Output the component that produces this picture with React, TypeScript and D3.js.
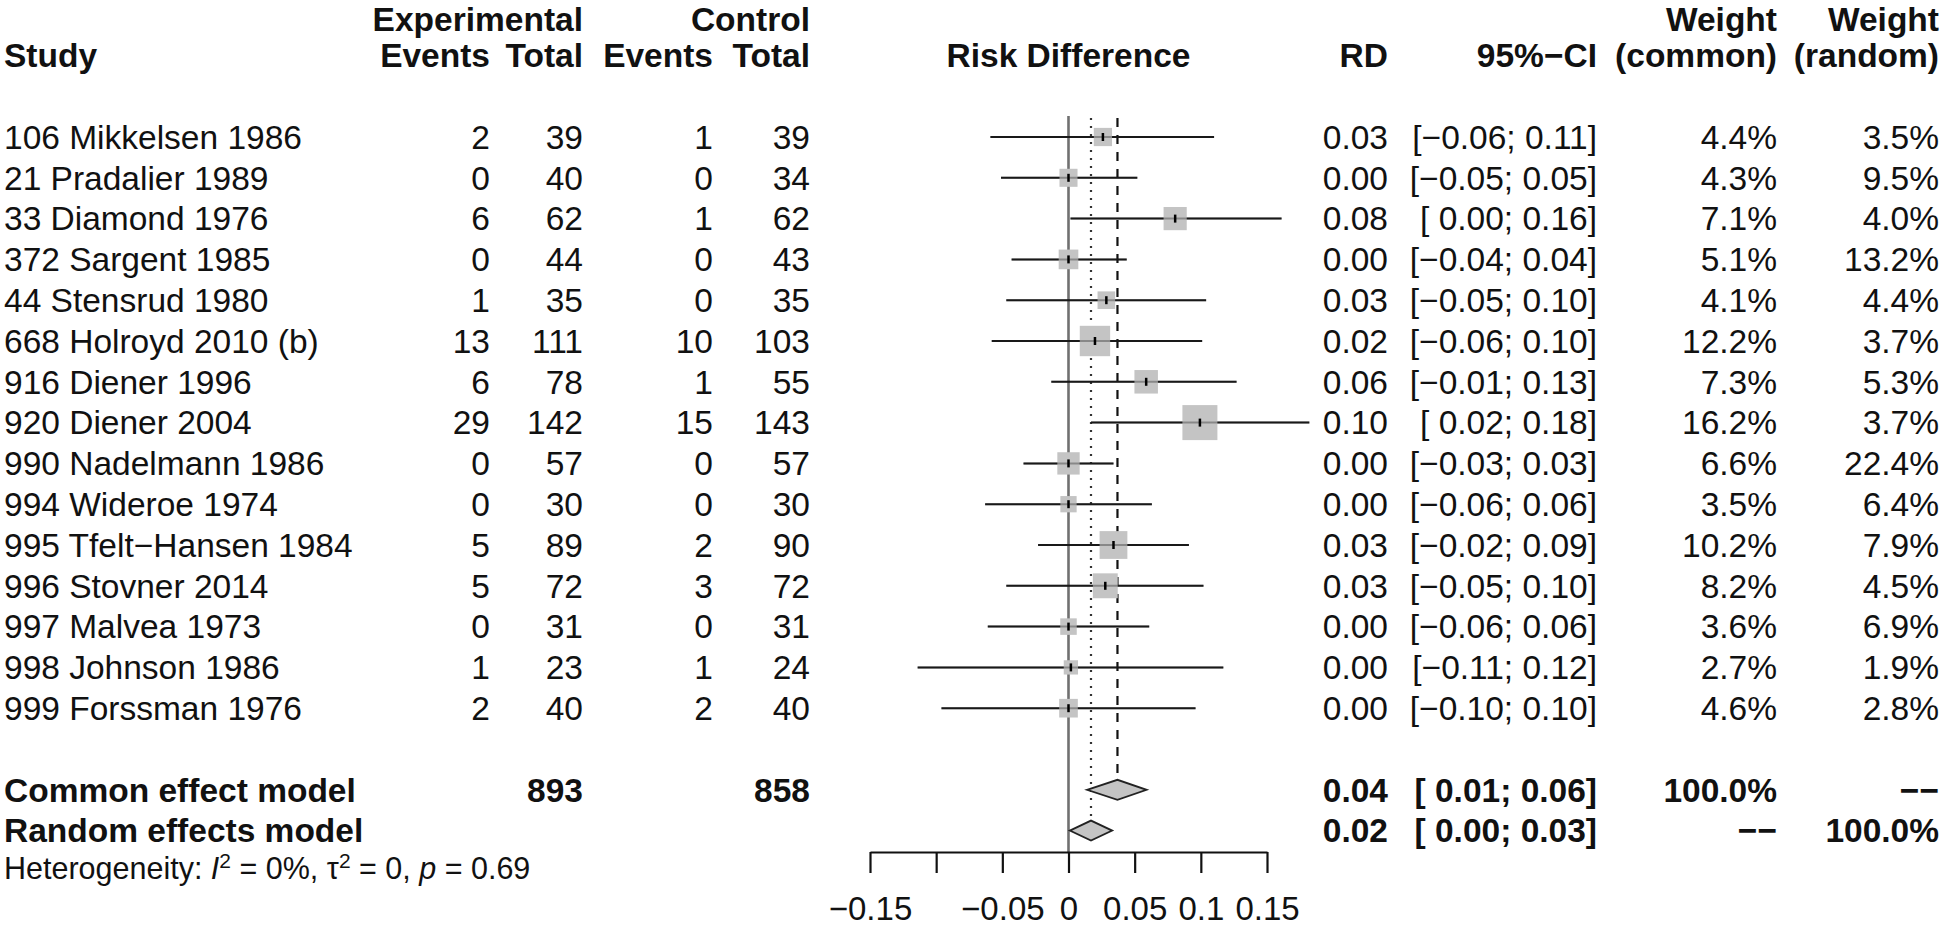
import React, { useEffect, useRef } from "react";
import * as d3 from "d3";

const W = 1944;
const H = 929;
const FONT = "'Liberation Sans', Arial, Helvetica, sans-serif";

const studies = [
  "106 Mikkelsen 1986",
  "21 Pradalier 1989",
  "33 Diamond 1976",
  "372 Sargent 1985",
  "44 Stensrud 1980",
  "668 Holroyd 2010 (b)",
  "916 Diener 1996",
  "920 Diener 2004",
  "990 Nadelmann 1986",
  "994 Wideroe 1974",
  "995 Tfelt\u2212Hansen 1984",
  "996 Stovner 2014",
  "997 Malvea 1973",
  "998 Johnson 1986",
  "999 Forssman 1976",
];
const expEvents = [2, 0, 6, 0, 1, 13, 6, 29, 0, 0, 5, 5, 0, 1, 2];
const expTotal = [39, 40, 62, 44, 35, 111, 78, 142, 57, 30, 89, 72, 31, 23, 40];
const ctrlEvents = [1, 0, 1, 0, 0, 10, 1, 15, 0, 0, 2, 3, 0, 1, 2];
const ctrlTotal = [39, 34, 62, 43, 35, 103, 55, 143, 57, 30, 90, 72, 31, 24, 40];
const rd = [0.026, 0, 0.0806, 0, 0.0286, 0.02, 0.0587, 0.0993, 0, 0, 0.034, 0.0278, 0, 0.0018, 0];
const ciLower = [-0.059, -0.051, 0.0015, -0.043, -0.047, -0.058, -0.013, 0.017, -0.034, -0.063, -0.023, -0.047, -0.061, -0.114, -0.096];
const ciUpper = [0.11, 0.052, 0.161, 0.044, 0.104, 0.101, 0.127, 0.182, 0.034, 0.063, 0.091, 0.102, 0.061, 0.117, 0.096];
const weightCommon = [4.4, 4.3, 7.1, 5.1, 4.1, 12.2, 7.3, 16.2, 6.6, 3.5, 10.2, 8.2, 3.6, 2.7, 4.6];
const weightRandom = [3.5, 9.5, 4.0, 13.2, 4.4, 3.7, 5.3, 3.7, 22.4, 6.4, 7.9, 4.5, 6.9, 1.9, 2.8];

const summaryLabels = ["Common effect model", "Random effects model"];
const summaryExpTotal = ["893", ""];
const summaryCtrlTotal = ["858", ""];
const summaryEst = [0.037, 0.017];
const summaryLower = [0.014, 0.001];
const summaryUpper = [0.059, 0.033];
const summaryWeightCommon = ["100.0%", "\u2212\u2212"];
const summaryWeightRandom = ["\u2212\u2212", "100.0%"];

const tickValues = [-0.15, -0.1, -0.05, 0, 0.05, 0.1, 0.15];
const tickLabels = ["\u22120.15", "", "\u22120.05", "0", "0.05", "0.1", "0.15"];

const fmt = d3.format(".2f");
const ciText = (lo: number, hi: number) =>
  `[${lo < 0 ? "" : " "}${fmt(lo)}; ${fmt(hi)}]`;

export default function App() {
  const axisRef = useRef<SVGGElement>(null);

  const x = d3.scaleLinear().domain([-0.15, 0.15]).range([870, 1267]);
  const row = d3.scaleLinear().domain([0, 1]).range([137, 177.8]);
  const box = d3.scaleSqrt().domain([0, 16.2]).range([0, 35]);

  const fs = 33.5;
  const dy = "0.35em";
  const axisY = 852;

  const colStudy = 4;
  const colExpEv = 490;
  const colExpTot = 583;
  const colCtrlEv = 713;
  const colCtrlTot = 810;
  const colRD = 1388;
  const colCI = 1597;
  const colWC = 1777;
  const colWR = 1939;

  const header1Y = 30.5;

  useEffect(() => {
    if (!axisRef.current) return;
    const g = d3.select(axisRef.current);
    g.call(
      d3
        .axisBottom(x)
        .tickValues(tickValues)
        .tickFormat((_d, i) => tickLabels[i])
        .tickSize(21)
        .tickSizeOuter(0)
        .tickPadding(24)
    );
    g.attr("font-family", FONT).attr("font-size", 33);
    g.select(".domain").attr("stroke", "#111").attr("stroke-width", 2.2);
    g.selectAll(".tick line").attr("stroke", "#111").attr("stroke-width", 2.2);
    g.selectAll(".tick text").attr("fill", "#111");
  }, []);

  const yCommon = row(16);
  const yRandom = row(17);
  const dH = 10;

  const diamond = (lo: number, est: number, hi: number, y: number) =>
    `M${x(lo)},${y} L${x(est)},${y - dH} L${x(hi)},${y} L${x(est)},${y + dH} Z`;

  return (
    <svg
      width={W}
      height={H}
      style={{ position: "absolute", left: 0, top: 0, background: "#fff" }}
      fontFamily={FONT}
      fontSize={fs}
      fill="#111"
    >
      <rect x={0} y={0} width={W} height={H} fill="#fff" />

      {/* headers */}
      <g fontWeight="bold">
        <text x={colExpTot} y={header1Y} textAnchor="end">Experimental</text>
        <text x={colCtrlTot} y={header1Y} textAnchor="end">Control</text>
        <text x={colWC} y={header1Y} textAnchor="end">Weight</text>
        <text x={colWR} y={header1Y} textAnchor="end">Weight</text>

        <text x={colStudy} y={row(-2)} dy={dy}>Study</text>
        <text x={colExpEv} y={row(-2)} dy={dy} textAnchor="end">Events</text>
        <text x={colExpTot} y={row(-2)} dy={dy} textAnchor="end">Total</text>
        <text x={colCtrlEv} y={row(-2)} dy={dy} textAnchor="end">Events</text>
        <text x={colCtrlTot} y={row(-2)} dy={dy} textAnchor="end">Total</text>
        <text x={x(0)} y={row(-2)} dy={dy} textAnchor="middle">Risk Difference</text>
        <text x={colRD} y={row(-2)} dy={dy} textAnchor="end">RD</text>
        <text x={colCI} y={row(-2)} dy={dy} textAnchor="end">95%{"\u2212"}CI</text>
        <text x={colWC} y={row(-2)} dy={dy} textAnchor="end">(common)</text>
        <text x={colWR} y={row(-2)} dy={dy} textAnchor="end">(random)</text>
      </g>

      {/* study rows text */}
      {studies.map((s, i) => (
        <g key={s}>
          <text x={colStudy} y={row(i)} dy={dy}>{s}</text>
          <text x={colExpEv} y={row(i)} dy={dy} textAnchor="end">{expEvents[i]}</text>
          <text x={colExpTot} y={row(i)} dy={dy} textAnchor="end">{expTotal[i]}</text>
          <text x={colCtrlEv} y={row(i)} dy={dy} textAnchor="end">{ctrlEvents[i]}</text>
          <text x={colCtrlTot} y={row(i)} dy={dy} textAnchor="end">{ctrlTotal[i]}</text>
          <text x={colRD} y={row(i)} dy={dy} textAnchor="end">{fmt(rd[i])}</text>
          <text x={colCI} y={row(i)} dy={dy} textAnchor="end" style={{ whiteSpace: "pre" }}>
            {ciText(ciLower[i], ciUpper[i])}
          </text>
          <text x={colWC} y={row(i)} dy={dy} textAnchor="end">{weightCommon[i].toFixed(1)}%</text>
          <text x={colWR} y={row(i)} dy={dy} textAnchor="end">{weightRandom[i].toFixed(1)}%</text>
        </g>
      ))}

      {/* summary rows text */}
      <g fontWeight="bold">
        {summaryLabels.map((s, k) => {
          const y = row(16 + k);
          return (
            <g key={s}>
              <text x={colStudy} y={y} dy={dy}>{s}</text>
              <text x={colExpTot} y={y} dy={dy} textAnchor="end">{summaryExpTotal[k]}</text>
              <text x={colCtrlTot} y={y} dy={dy} textAnchor="end">{summaryCtrlTotal[k]}</text>
              <text x={colRD} y={y} dy={dy} textAnchor="end">{fmt(summaryEst[k])}</text>
              <text x={colCI} y={y} dy={dy} textAnchor="end" style={{ whiteSpace: "pre" }}>
                {ciText(summaryLower[k], summaryUpper[k])}
              </text>
              <text x={colWC} y={y} dy={dy} textAnchor="end">{summaryWeightCommon[k]}</text>
              <text x={colWR} y={y} dy={dy} textAnchor="end">{summaryWeightRandom[k]}</text>
            </g>
          );
        })}
      </g>

      {/* heterogeneity */}
      <text x={colStudy} y={879} fontSize={30.5}>
        Heterogeneity: <tspan fontStyle="italic">I</tspan>
        <tspan dy={-11} fontSize={21}>2</tspan>
        <tspan dy={11}> = 0%, {"\u03c4"}</tspan>
        <tspan dy={-11} fontSize={21}>2</tspan>
        <tspan dy={11}> = 0, </tspan>
        <tspan fontStyle="italic">p</tspan>
        <tspan> = 0.69</tspan>
      </text>

      {/* reference lines */}
      <line x1={x(0)} x2={x(0)} y1={116} y2={axisY} stroke="#707070" strokeWidth={2.6} />
      <line
        x1={x(summaryEst[0])}
        x2={x(summaryEst[0])}
        y1={118}
        y2={yCommon - dH}
        stroke="#111"
        strokeWidth={2.2}
        strokeDasharray="9,8"
      />
      <line
        x1={x(summaryEst[1])}
        x2={x(summaryEst[1])}
        y1={118}
        y2={yRandom - dH}
        stroke="#333"
        strokeWidth={2.2}
        strokeDasharray="2,6"
      />

      {/* study marks */}
      {studies.map((s, i) => {
        const y = row(i);
        const side = box(weightCommon[i]);
        return (
          <g key={"m" + s}>
            <line x1={x(ciLower[i])} x2={x(ciUpper[i])} y1={y} y2={y} stroke="#1a1a1a" strokeWidth={2} />
            <rect
              x={x(rd[i]) - side / 2}
              y={y - side / 2}
              width={side}
              height={side}
              fill="#c4c4c4"
            />
            <line x1={x(ciLower[i])} x2={x(ciUpper[i])} y1={y} y2={y} stroke="#1a1a1a" strokeOpacity={0.35} strokeWidth={2} />
            <line x1={x(rd[i])} x2={x(rd[i])} y1={y - 4} y2={y + 4} stroke="#000" strokeWidth={2.5} />
          </g>
        );
      })}

      {/* diamonds */}
      <path d={diamond(summaryLower[0], summaryEst[0], summaryUpper[0], yCommon)} fill="#c4c4c4" stroke="#222" strokeWidth={1.8} />
      <path d={diamond(summaryLower[1], summaryEst[1], summaryUpper[1], yRandom)} fill="#c4c4c4" stroke="#222" strokeWidth={1.8} />

      {/* axis */}
      <g ref={axisRef} transform={`translate(0,${axisY})`} />
    </svg>
  );
}
